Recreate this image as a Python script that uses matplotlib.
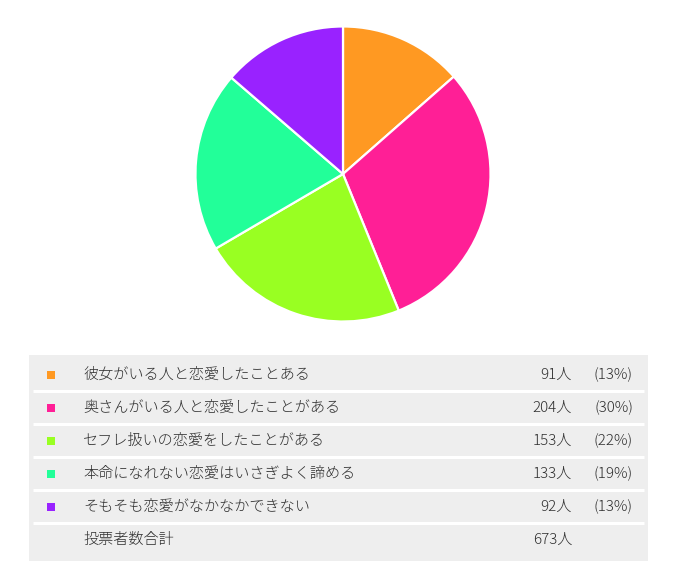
"""
Poll result: pie chart + vote table underneath (JP survey page style).
"""
import matplotlib
matplotlib.use("Agg")
import matplotlib.pyplot as plt
from matplotlib.patches import Rectangle

plt.rcParams["font.family"] = ["Noto Sans CJK JP", "DejaVu Sans"]

labels  = ["彼女がいる人と恋愛したことある",
           "奥さんがいる人と恋愛したことがある",
           "セフレ扱いの恋愛をしたことがある",
           "本命になれない恋愛はいさぎよく諦める",
           "そもそも恋愛がなかなかできない"]
votes   = [91, 204, 153, 133, 92]
percent = [13, 30, 22, 19, 13]
total_label = "投票者数合計"
total   = 673
colors  = ["#FF9922", "#FF1F96", "#99FF22", "#22FF99", "#9922FF"]

W, H = 675, 578
TEXT = "#2E2E2E"
BG   = "#EEEEEE"

fig = plt.figure(figsize=(W / 100, H / 100), dpi=100, facecolor="white")

# ── pie ─────────────────────────────────────────────────────────────
cx, cy, r = 343, 174, 149
ax = fig.add_axes([(cx - r) / W, (H - cy - r) / H, 2 * r / W, 2 * r / H])
ax.pie(votes, colors=colors, startangle=90, counterclock=False, radius=1,
       wedgeprops=dict(edgecolor="white", linewidth=1.6))
ax.set_xlim(-1.01, 1.01)
ax.set_ylim(-1.01, 1.01)
ax.axis("off")

# ── vote table ──────────────────────────────────────────────────────
tb = fig.add_axes([0, 0, 1, 1])
tb.set_xlim(0, W)
tb.set_ylim(H, 0)
tb.axis("off")

top, bottom = 355, 561
tb.add_patch(Rectangle((29, top), 648 - 29, bottom - top, color=BG, lw=0))

row_y = [375 + 33 * i for i in range(len(labels) + 1)]
for i in range(len(labels)):
    sep = (row_y[i] + row_y[i + 1]) / 2 - 1
    tb.plot([33, 644], [sep, sep], color="white", lw=2.2, solid_capstyle="butt")

fs = 10.9
kw = dict(fontsize=fs, color=TEXT, va="center", fontweight="light")
for i, (lab, v, p, c) in enumerate(zip(labels, votes, percent, colors)):
    y = row_y[i]
    tb.scatter([51], [y], marker="s", s=30, color=c, edgecolors="none")
    tb.text(83, y, lab, ha="left", **kw)
    tb.text(572, y, f"{v}人", ha="right", **kw)
    tb.text(633, y, f"({p}%)", ha="right", **kw)

y = row_y[-1]
tb.text(83, y, total_label, ha="left", **kw)
tb.text(572, y, f"{total}人", ha="right", **kw)

fig.savefig("out.png", dpi=100, facecolor="white")
